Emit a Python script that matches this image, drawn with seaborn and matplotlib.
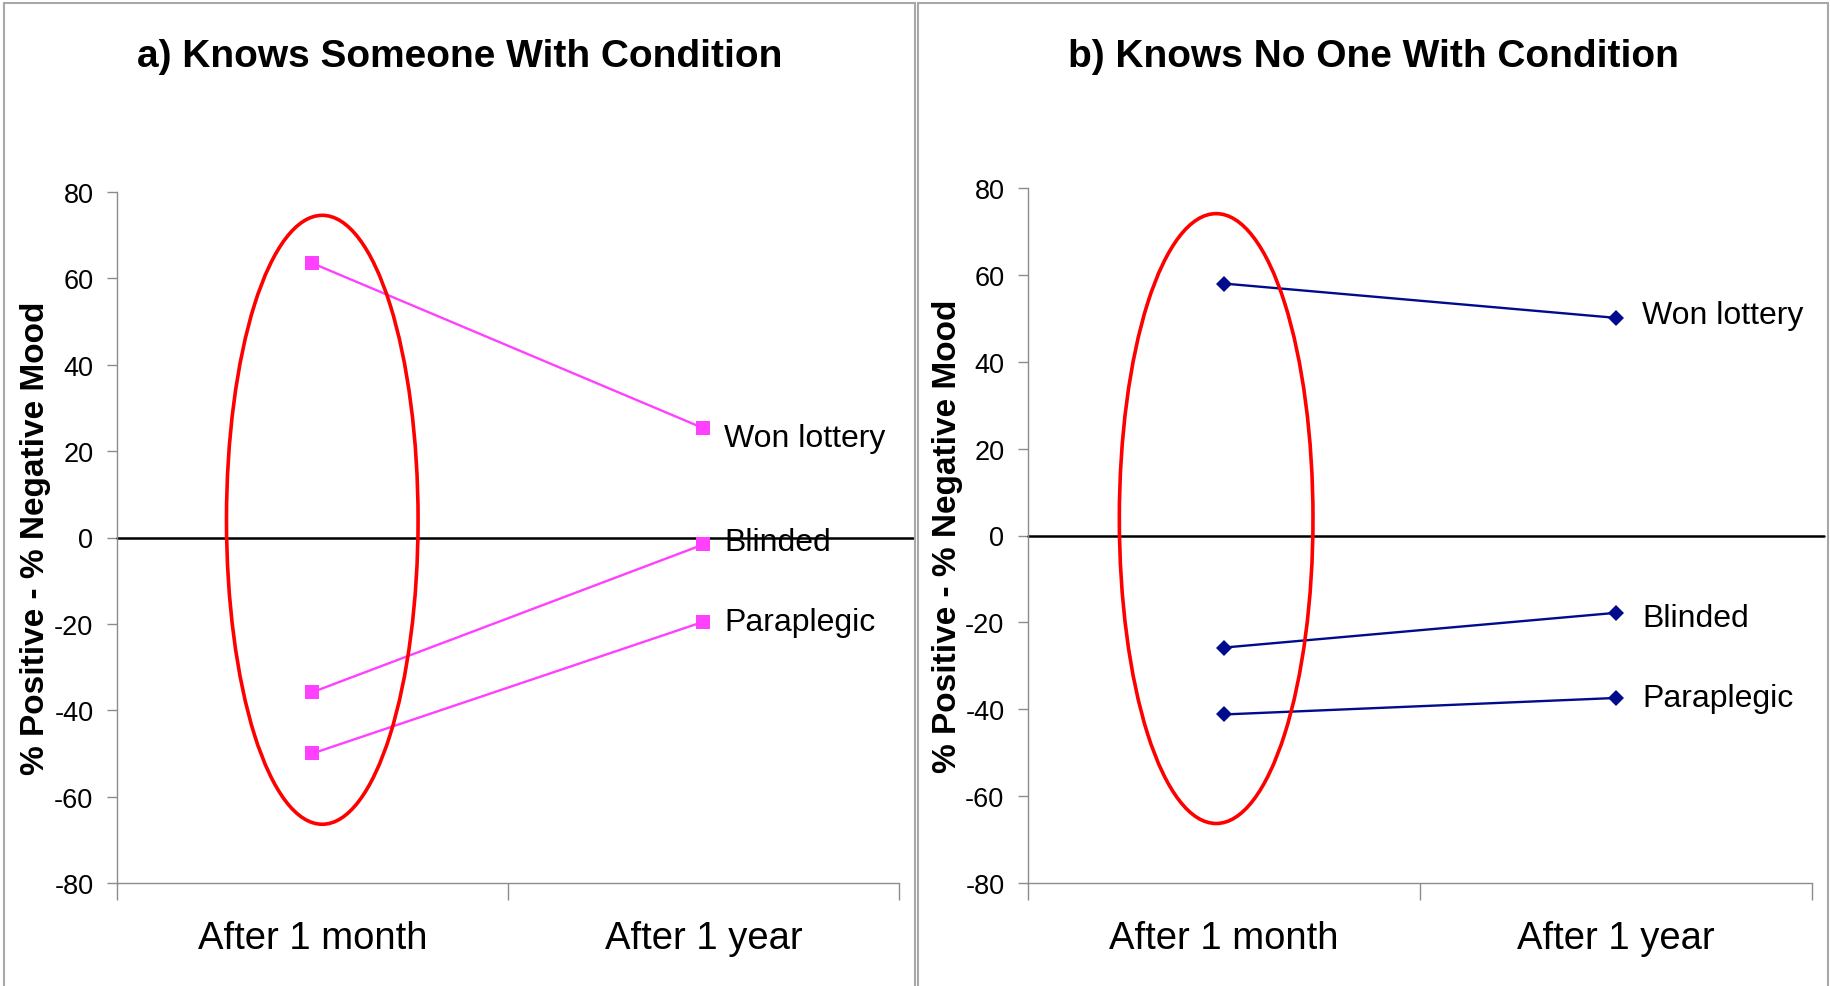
import matplotlib
matplotlib.use('Agg')
import matplotlib.pyplot as plt
from matplotlib.patches import Ellipse, Rectangle
import pandas as pd
import seaborn as sns

W, H = 1831, 987

PERIODS = ['After 1 month', 'After 1 year']
SERIES = ['Won lottery', 'Blinded', 'Paraplegic']

# panel a: knows someone with the condition
KNOWS_WON = [63.5, 25.3]
KNOWS_BLIND = [-35.8, -1.6]
KNOWS_PARA = [-50.0, -19.5]

# panel b: knows no one with the condition
NOONE_WON = [58.0, 50.1]
NOONE_BLIND = [-25.8, -17.8]
NOONE_PARA = [-41.2, -37.4]

TITLES = ['a) Knows Someone With Condition', 'b) Knows No One With Condition']
YLABEL = '% Positive - % Negative Mood'

MAGENTA = '#FF40FF'
NAVY = '#000C8C'
RED = '#FF0000'
GREY = '#8C8C8C'


def long_frame(won, blind, para):
    rows = []
    for name, vals in zip(SERIES, [won, blind, para]):
        for p, v in zip(PERIODS, vals):
            rows.append({'period': p, 'series': name, 'value': v})
    return pd.DataFrame(rows)


def px_box(x0, x1, top, bottom):
    # pixel box -> figure fraction [left, bottom, width, height]
    return [x0 / W, 1 - bottom / H, (x1 - x0) / W, (bottom - top) / H]


sns.set_style('white')
plt.rcParams['font.family'] = ['Liberation Sans', 'DejaVu Sans']
plt.rcParams['axes.unicode_minus'] = False
plt.rcParams['text.color'] = 'black'
plt.rcParams['axes.labelcolor'] = 'black'
plt.rcParams['xtick.labelcolor'] = 'black'
plt.rcParams['ytick.labelcolor'] = 'black'

fig = plt.figure(figsize=(W / 100, H / 100), dpi=100)

# panel frames
for x0, x1 in [(4, 915), (918, 1828)]:
    fig.patches.append(Rectangle((x0 / W, -0.01), (x1 - x0) / W, 1 - 4 / H + 0.01,
                                 transform=fig.transFigure, fill=False,
                                 edgecolor='#A8A8A8', lw=1.5))

panels = [
    dict(box=px_box(117, 899, 193, 884), df=long_frame(KNOWS_WON, KNOWS_BLIND, KNOWS_PARA),
         color=MAGENTA, marker='s', ms=10, ell=(0.025, 4.1, 0.49, 141), zext=1.018,
         nudge=[-7, 2, 0], dx=15, ylab_x=-0.084, title_x=460 / W),
    dict(box=px_box(1028, 1812, 189, 884), df=long_frame(NOONE_WON, NOONE_BLIND, NOONE_PARA),
         color=NAVY, marker='D', ms=8.5, ell=(-0.02, 3.9, 0.494, 140.4), zext=1.015,
         nudge=[2, -4, 0], dx=19, ylab_x=-0.083, title_x=1373 / W),
]

for i, p in enumerate(panels):
    ax = fig.add_axes(p['box'])
    df = p['df']
    sns.lineplot(data=df, x='period', y='value', hue='series',
                 palette={s: p['color'] for s in SERIES}, marker=p['marker'],
                 markersize=p['ms'], markeredgewidth=0, lw=1.7, legend=False,
                 sort=False, ax=ax)

    ax.set_xlim(-0.5, 1.5)
    ax.set_ylim(-80, 80)
    ax.set_yticks(range(-80, 81, 20))
    ax.tick_params(axis='y', labelsize=19.5, length=7, width=1, color=GREY,
                   direction='out', left=True, pad=10)
    ax.set_xticks([-0.5, 0.5, 1.5])
    ax.set_xticklabels([])
    ax.set_xticks([0, 1], minor=True)
    ax.set_xticklabels(PERIODS, minor=True)
    ax.tick_params(axis='x', which='major', length=12, width=1, color=GREY,
                   direction='out', bottom=True)
    ax.tick_params(axis='x', which='minor', length=0, labelsize=27.5, pad=27)
    ax.set_xlabel('')
    ax.set_ylabel(YLABEL, fontsize=24, fontweight='bold')
    ax.yaxis.set_label_coords(p['ylab_x'], 0.5)

    for side in ['top', 'right']:
        ax.spines[side].set_visible(False)
    for side in ['left', 'bottom']:
        ax.spines[side].set_color(GREY)
        ax.spines[side].set_linewidth(1)

    ax.axhline(0, xmin=0, xmax=p['zext'], color='black', lw=1.8, clip_on=False, zorder=1)

    cx, cy, ew, eh = p['ell']
    ax.add_patch(Ellipse((cx, cy), ew, eh, fill=False, edgecolor=RED, lw=2.6, zorder=5))

    for name, nud in zip(SERIES, p['nudge']):
        last = df[(df.series == name) & (df.period == PERIODS[1])].value.iloc[0]
        ax.annotate(name, (1, last), xytext=(p['dx'], nud), textcoords='offset points',
                    fontsize=23, va='center', ha='left', annotation_clip=False)

    fig.text(p['title_x'], 0.942, TITLES[i], fontsize=28, fontweight='bold',
             ha='center', va='center')

fig.savefig('out.png', dpi=100)
